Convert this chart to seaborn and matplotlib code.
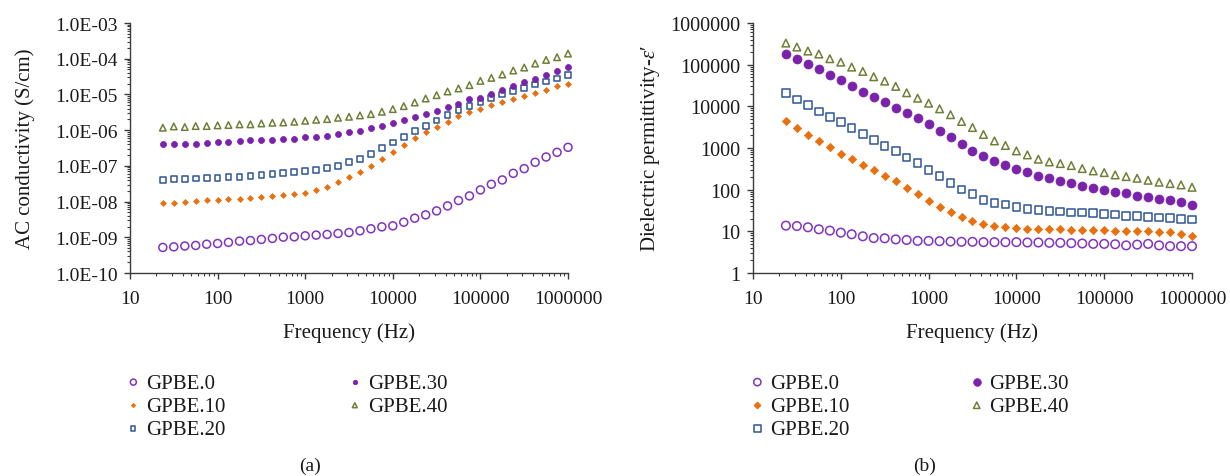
import matplotlib
matplotlib.use("Agg")
import matplotlib.pyplot as plt
import matplotlib.ticker as mticker
import seaborn as sns

# Frequencies (Hz), same for all samples
freq = [23.7, 31.6, 42.2, 56.2, 75.0, 100, 133, 178, 237, 316, 422, 562, 750,
        1000, 1334, 1778, 2371, 3162, 4217, 5623, 7499, 10000, 13335, 17783,
        23714, 31623, 42170, 56234, 74989, 100000, 133352, 177828, 237137,
        316228, 421697, 562341, 749894, 1000000]

labels = ["GPBE.0", "GPBE.10", "GPBE.20", "GPBE.30", "GPBE.40"]

# (a) AC conductivity (S/cm)
sig_0 = [5.2e-10, 5.4e-10, 5.7e-10, 5.9e-10, 6.4e-10, 6.7e-10, 7.2e-10, 7.8e-10,
         8.1e-10, 8.7e-10, 9.3e-10, 1.01e-9, 1.03e-9, 1.10e-9, 1.15e-9, 1.20e-9,
         1.28e-9, 1.36e-9, 1.52e-9, 1.73e-9, 1.96e-9, 2.09e-9, 2.65e-9, 3.42e-9,
         4.24e-9, 5.48e-9, 7.57e-9, 1.07e-8, 1.44e-8, 2.12e-8, 3.05e-8, 4.03e-8,
         6.18e-8, 8.36e-8, 1.26e-7, 1.77e-7, 2.39e-7, 3.30e-7]
sig_10 = [8.98e-9, 9.1e-9, 9.57e-9, 1.02e-8, 1.09e-8, 1.14e-8, 1.16e-8, 1.21e-8,
          1.29e-8, 1.38e-8, 1.44e-8, 1.50e-8, 1.64e-8, 1.78e-8, 2.16e-8, 2.62e-8,
          3.54e-8, 4.78e-8, 6.75e-8, 1.01e-7, 1.59e-7, 2.39e-7, 3.75e-7, 5.88e-7,
          8.65e-7, 1.24e-6, 1.72e-6, 2.42e-6, 3.13e-6, 3.96e-6, 5.01e-6, 6.21e-6,
          7.69e-6, 9.14e-6, 1.13e-5, 1.37e-5, 1.70e-5, 1.98e-5]
sig_20 = [4.03e-8, 4.21e-8, 4.25e-8, 4.39e-8, 4.58e-8, 4.62e-8, 4.78e-8, 4.99e-8,
          5.21e-8, 5.56e-8, 5.81e-8, 6.32e-8, 6.75e-8, 7.19e-8, 7.50e-8, 8.53e-8,
          1.01e-7, 1.26e-7, 1.59e-7, 2.19e-7, 3.09e-7, 4.54e-7, 6.55e-7, 9.42e-7,
          1.30e-6, 1.87e-6, 2.69e-6, 3.64e-6, 4.81e-6, 6.09e-6, 8.04e-6, 9.95e-6,
          1.23e-5, 1.53e-5, 1.89e-5, 2.30e-5, 2.79e-5, 3.45e-5]
sig_30 = [4.0e-7, 4.08e-7, 4.17e-7, 4.2e-7, 4.45e-7, 4.55e-7, 4.64e-7, 5.06e-7,
          5.28e-7, 5.3e-7, 5.35e-7, 5.51e-7, 5.62e-7, 6.26e-7, 6.40e-7, 6.98e-7,
          7.60e-7, 8.65e-7, 9.42e-7, 1.12e-6, 1.30e-6, 1.54e-6, 1.91e-6, 2.37e-6,
          2.87e-6, 3.41e-6, 4.32e-6, 5.24e-6, 7.22e-6, 8.04e-6, 1.06e-5, 1.37e-5,
          1.70e-5, 2.20e-5, 2.79e-5, 3.45e-5, 4.56e-5, 5.90e-5]
sig_40 = [1.17e-6, 1.27e-6, 1.22e-6, 1.30e-6, 1.30e-6, 1.36e-6, 1.39e-6, 1.45e-6,
          1.45e-6, 1.54e-6, 1.61e-6, 1.64e-6, 1.72e-6, 1.83e-6, 1.95e-6, 2.04e-6,
          2.22e-6, 2.37e-6, 2.58e-6, 2.81e-6, 3.27e-6, 3.88e-6, 4.70e-6, 5.95e-6,
          7.69e-6, 9.54e-6, 1.21e-5, 1.47e-5, 1.82e-5, 2.40e-5, 2.91e-5, 3.61e-5,
          4.67e-5, 5.65e-5, 7.31e-5, 9.25e-5, 1.10e-4, 1.39e-4]

# (b) dielectric permittivity
eps_0 = [13.7, 13.4, 12.5, 11.2, 10.4, 9.3, 8.5, 7.6, 6.9, 6.8, 6.4, 6.2, 5.9,
         5.9, 5.8, 5.7, 5.6, 5.6, 5.5, 5.5, 5.5, 5.5, 5.4, 5.4, 5.3, 5.3, 5.2,
         5.1, 5.0, 5.0, 4.9, 4.6, 4.8, 5.0, 4.6, 4.4, 4.4, 4.4]
eps_10 = [4570, 2990, 2030, 1460, 1030, 722, 538, 386, 293, 218, 162, 110, 77.5,
          52.6, 38.5, 28.6, 21.7, 17.7, 14.7, 13.7, 12.7, 11.8, 11.6, 11.4, 11.2,
          11.2, 11.0, 10.8, 10.6, 10.6, 10.4, 10.4, 10.2, 10.0, 9.8, 9.4, 8.6, 7.9]
eps_20 = [20800, 14600, 10700, 7530, 5600, 4170, 3050, 2190, 1540, 1130, 838, 590,
          440, 298, 214, 143, 100, 77.5, 56.6, 48.0, 43.8, 38.5, 34.4, 32.0, 30.3,
          29.7, 28.6, 28.1, 27.1, 26.1, 25.2, 23.4, 23.0, 22.1, 21.3, 20.6, 19.8, 19.1]
eps_30 = [183000, 139000, 105000, 76900, 56200, 41900, 30100, 22300, 16300, 12400,
          9230, 7000, 5110, 3730, 2580, 1790, 1260, 869, 635, 482, 386, 309, 262,
          210, 188, 159, 143, 123, 110, 96.8, 89.9, 81.9, 71.9, 65.6, 59.8, 55.6,
          49.8, 43.8]
eps_40 = [330000, 265000, 212000, 180000, 139000, 115000, 87500, 68900, 51300,
          40400, 30100, 21200, 15700, 11900, 8730, 6300, 4330, 3100, 2110, 1480,
          1150, 853, 684, 538, 464, 423, 379, 321, 282, 257, 226, 206, 188, 168,
          151, 140, 130, 114]

colors = ["#8033C0", "#E8700E", "#2F5597", "#7A22AA", "#6E7F38"]
markers = ["o", "D", "s", "o", "^"]
filled = [False, True, False, True, False]

sns.set_style("ticks")
plt.rcParams["font.family"] = ["Liberation Serif", "DejaVu Serif"]
plt.rcParams["mathtext.fontset"] = "custom"
plt.rcParams["mathtext.it"] = "Liberation Serif:italic"
plt.rcParams["mathtext.rm"] = "Liberation Serif"

fig = plt.figure(figsize=(12.3, 4.77), dpi=100)
ax1 = fig.add_axes([130 / 1230, 1 - 274 / 477, 438 / 1230, 250 / 477])
ax2 = fig.add_axes([753 / 1230, 1 - 274 / 477, 439 / 1230, 250 / 477])

sizes_a = [33, 9, 17, 19, 22]
sizes_b = [38, 18, 30, 42, 30]


def draw(ax, series, sizes):
    for lab, vals, c, m, f, s in zip(labels, series, colors, markers, filled, sizes):
        if f:
            sns.scatterplot(x=freq, y=vals, ax=ax, marker=m, s=s, color=c,
                            edgecolor=c, linewidth=0.5, label=lab, clip_on=False,
                            zorder=3)
        else:
            sns.scatterplot(x=freq, y=vals, ax=ax, marker=m, s=s, color=c,
                            facecolor="none", edgecolor=c, linewidth=1.1, label=lab,
                            clip_on=False, zorder=3)


draw(ax1, [sig_0, sig_10, sig_20, sig_30, sig_40], sizes_a)
draw(ax2, [eps_0, eps_10, eps_20, eps_30, eps_40], sizes_b)

for ax in (ax1, ax2):
    ax.set_xscale("log")
    ax.set_yscale("log")
    ax.set_xlim(10, 1e6)
    ax.xaxis.set_major_locator(mticker.LogLocator(base=10, numticks=10))
    ax.xaxis.set_minor_locator(mticker.LogLocator(base=10, subs=range(2, 10), numticks=20))
    ax.xaxis.set_major_formatter(mticker.FuncFormatter(lambda v, p: f"{v:.0f}"))
    ax.xaxis.set_minor_formatter(mticker.NullFormatter())
    ax.yaxis.set_minor_formatter(mticker.NullFormatter())
    ax.yaxis.set_minor_locator(mticker.LogLocator(base=10, subs=range(2, 10), numticks=20))
    for sp in ("top", "right"):
        ax.spines[sp].set_visible(False)
    for sp in ("left", "bottom"):
        ax.spines[sp].set_color("#3c3c3c")
        ax.spines[sp].set_linewidth(1.0)
    ax.tick_params(which="major", direction="out", length=4, width=1.0,
                   color="#3c3c3c", labelsize=14, labelcolor="#1a1a1a", pad=5)
    ax.tick_params(which="minor", direction="out", length=2.5, width=0.8, color="#3c3c3c")
    ax.tick_params(axis="x", which="major", pad=8)
    ax.set_xlabel("Frequency (Hz)", fontsize=15, labelpad=11, color="#1a1a1a")

ax1.set_ylim(1e-10, 1e-3)
ax1.yaxis.set_major_locator(mticker.LogLocator(base=10, numticks=10))
ax1.yaxis.set_major_formatter(mticker.FuncFormatter(lambda v, p: f"{v:.1E}"))
ax1.set_ylabel("AC conductivity (S/cm)", fontsize=15, labelpad=14, color="#1a1a1a")

ax2.tick_params(axis="y", which="major", labelsize=14.5)
ax2.set_ylim(1, 1e6)
ax2.yaxis.set_major_locator(mticker.LogLocator(base=10, numticks=10))
ax2.yaxis.set_major_formatter(mticker.FuncFormatter(lambda v, p: f"{v:.0f}"))
ax2.set_ylabel("Dielectric permittivity-$\\mathit{ε′}$", fontsize=15, labelpad=6,
               color="#1a1a1a")

leg_kw = dict(loc="upper left", ncol=2, frameon=False, fontsize=15, borderpad=0,
              borderaxespad=0, handlelength=0.8, handletextpad=0.22, labelspacing=0.17,
              bbox_transform=fig.transFigure)
leg1 = ax1.legend(bbox_to_anchor=(125 / 1230, 1 - 374 / 477), columnspacing=5.8,
                  markerscale=0.75, **leg_kw)
leg2 = ax2.legend(bbox_to_anchor=(749 / 1230, 1 - 374 / 477), columnspacing=5.7,
                  markerscale=0.85, **leg_kw)
for leg in (leg1, leg2):
    for t in leg.get_texts():
        t.set_color("#1a1a1a")

fig.text(310 / 1230, 1 - 466 / 477, "(a)", fontsize=14, ha="center", va="center", color="#1a1a1a")
fig.text(925 / 1230, 1 - 466 / 477, "(b)", fontsize=14, ha="center", va="center", color="#1a1a1a")

fig.savefig("out.png", dpi=100)
